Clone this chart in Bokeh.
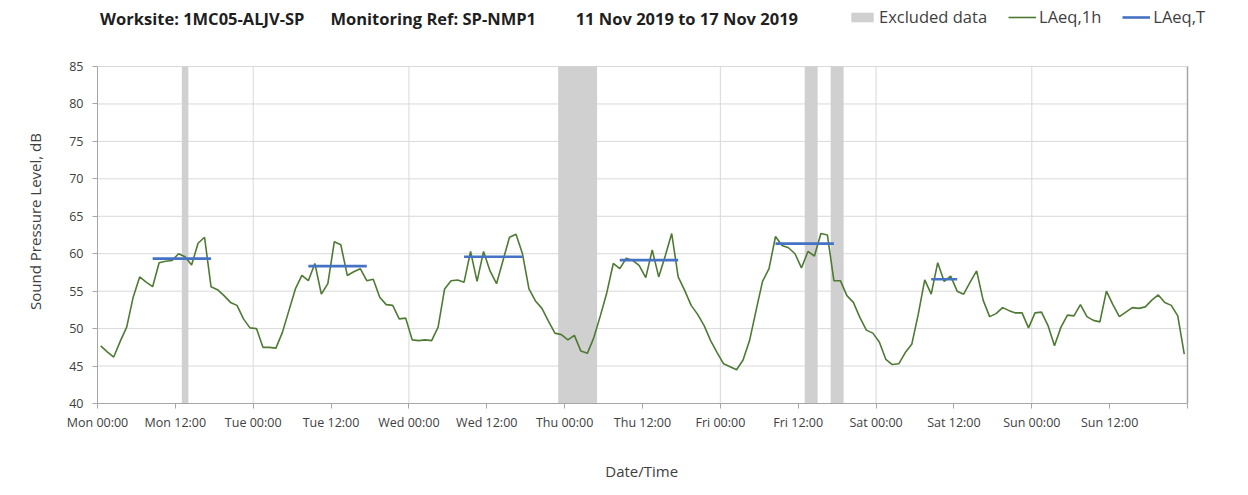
from bokeh.plotting import figure
from bokeh.models import FixedTicker, Label, Legend, LegendItem, ColumnDataSource
from bokeh.embed import file_html
from bokeh.resources import INLINE

# ---------------- data ----------------
# hourly LAeq,1h values, Mon 11 Nov 2019 00:00 .. Sun 17 Nov 2019 23:00 (index = hour of week)
laeq_1h = [
    47.7, 46.9, 46.2, 48.3, 50.2, 54.2, 56.9, 56.2, 55.6, 58.8, 59.0, 59.1,
    60.0, 59.6, 58.5, 61.4, 62.2, 55.6, 55.2, 54.4, 53.5, 53.1, 51.3, 50.1,
    50.0, 47.5, 47.5, 47.4, 49.5, 52.4, 55.3, 57.1, 56.4, 58.7, 54.6, 56.0,
    61.6, 61.2, 57.1, 57.6, 58.0, 56.4, 56.6, 54.2, 53.2, 53.1, 51.3, 51.4,
    48.5, 48.4, 48.5, 48.4, 50.2, 55.3, 56.4, 56.5, 56.2, 60.3, 56.3, 60.3,
    57.7, 56.0, 59.1, 62.2, 62.6, 60.0, 55.3, 53.7, 52.7, 51.0, 49.4, 49.2,
    48.5, 49.1, 47.0, 46.7, 48.8, 51.7, 54.8, 58.7, 58.0, 59.4, 59.1, 58.4,
    56.8, 60.5, 56.9, 59.7, 62.7, 56.9, 55.1, 53.1, 51.9, 50.4, 48.4, 46.8,
    45.3, 44.9, 44.5, 45.8, 48.4, 52.4, 56.3, 58.0, 62.3, 61.1, 60.8, 60.0,
    58.1, 60.3, 59.7, 62.7, 62.5, 56.4, 56.4, 54.4, 53.5, 51.5, 49.8, 49.4,
    48.2, 45.9, 45.2, 45.3, 46.8, 47.9, 51.9, 56.5, 54.6, 58.8, 56.3, 57.0,
    55.0, 54.6, 56.2, 57.7, 53.8, 51.6, 52.0, 52.8, 52.4, 52.1, 52.1, 50.1,
    52.1, 52.2, 50.4, 47.7, 50.2, 51.8, 51.7, 53.2, 51.6, 51.1, 50.9, 55.0,
    53.2, 51.6, 52.2, 52.8, 52.7, 52.9, 53.8, 54.5, 53.5, 53.1, 51.7, 46.6,
]
hour_index = list(range(len(laeq_1h)))

# LAeq,T periods (first and last hour index of each assessment period)
period_first = [8, 32, 56, 80, 104, 128]
period_last = [17, 41, 65, 89, 113, 132]
laeq_T = [59.35, 58.35, 59.6, 59.15, 61.35, 56.6]

# excluded data windows (hour of week)
excl_start = [13, 71, 109, 113]
excl_end = [14, 77, 111, 115]

tick_hours = [0, 12, 24, 36, 48, 60, 72, 84, 96, 108, 120, 132, 144, 156, 168]
tick_labels = ["Mon 00:00", "Mon 12:00", "Tue 00:00", "Tue 12:00", "Wed 00:00",
               "Wed 12:00", "Thu 00:00", "Thu 12:00", "Fri 00:00", "Fri 12:00",
               "Sat 00:00", "Sat 12:00", "Sun 00:00", "Sun 12:00", ""]
day_grid = [24, 48, 72, 96, 120, 144]
y_ticks = [40, 45, 50, 55, 60, 65, 70, 75, 80, 85]
X_MIN, X_MAX = 0, 168
Y_MIN, Y_MAX = 40, 85

title_parts = ["Worksite: 1MC05-ALJV-SP", "Monitoring Ref: SP-NMP1",
               "11 Nov 2019 to 17 Nov 2019"]
title_x = [0.4, 35.9, 73.7]

FONT = "Open Sans"
AXIS_COL = "#a6a6a6"
GRID_COL = "#d9d9d9"
TEXT_COL = "#404040"

# ---------------- figure ----------------
# The frame is larger than the data area (0-168 h, 40-85 dB) so that the
# header row (title + legend) can be drawn inside it without clipping.
PX_PER_DB = 337.0 / (Y_MAX - Y_MIN)
PX_PER_H = 1090.0 / (X_MAX - X_MIN)
FRAME_H = 403
FRAME_W = 1143
y_top = Y_MIN + FRAME_H / PX_PER_DB
x_right = X_MIN + FRAME_W / PX_PER_H
header_y = Y_MIN + (FRAME_H - 18) / PX_PER_DB

p = figure(width=1248, height=495, frame_width=FRAME_W, frame_height=FRAME_H,
           x_range=(X_MIN, x_right), y_range=(Y_MIN, y_top),
           output_backend="svg", toolbar_location=None,
           min_border_left=97, min_border_right=1248 - 97 - FRAME_W, min_border_top=0,
           min_border_bottom=92)
p.title.visible = False
p.styles = {"outline": "1px solid #d9d9d9", "outline-offset": "-5px"}
p.outline_line_color = None
p.background_fill_color = "white"
p.border_fill_color = "white"
p.xgrid.visible = False
p.ygrid.visible = False

# grid lines (data area only)
p.segment(x0=X_MIN, x1=X_MAX, y0=y_ticks[1:], y1=y_ticks[1:], line_color=GRID_COL, line_width=1)
p.segment(x0=day_grid, x1=day_grid, y0=Y_MIN, y1=Y_MAX, line_color=GRID_COL, line_width=1)

# excluded bands
bands = p.quad(left=excl_start, right=excl_end, bottom=Y_MIN, top=Y_MAX,
               fill_color="#d0d0d0", line_color=None)

# LAeq,1h line (points at centre of each hour)
src = ColumnDataSource(dict(x=[h + 0.5 for h in hour_index], y=laeq_1h))
green = p.line("x", "y", source=src, line_color="#4e7a33", line_width=1.6)

# LAeq,T segments
seg_src = ColumnDataSource(dict(x0=[a + 0.5 for a in period_first],
                                x1=[b + 0.5 for b in period_last],
                                y=laeq_T))
blue = p.segment(x0="x0", y0="y", x1="x1", y1="y", source=seg_src,
                 line_color="#4472c4", line_width=2.6)

# right-hand plot-area edge
p.segment(x0=[X_MAX], x1=[X_MAX], y0=[Y_MIN], y1=[Y_MAX], line_color=AXIS_COL, line_width=1.5)

# axes
p.xaxis.ticker = FixedTicker(ticks=tick_hours)
p.xaxis.major_label_overrides = {h: lab for h, lab in zip(tick_hours, tick_labels)}
p.xaxis.bounds = (X_MIN, X_MAX)
p.yaxis.ticker = FixedTicker(ticks=y_ticks)
p.yaxis.bounds = (Y_MIN, Y_MAX)

for ax in (p.xaxis, p.yaxis):
    ax.axis_line_color = AXIS_COL
    ax.major_tick_line_color = AXIS_COL
    ax.major_tick_out = 5
    ax.major_tick_in = 0
    ax.minor_tick_line_color = None
    ax.major_label_text_font = FONT
    ax.major_label_text_font_size = "12.5px"
    ax.major_label_text_color = TEXT_COL
    ax.axis_label_text_font = FONT
    ax.axis_label_text_font_size = "15px"
    ax.axis_label_text_font_style = "normal"
    ax.axis_label_text_color = TEXT_COL

# trailing no-break spaces centre the axis titles on the data area of the frame
p.xaxis.axis_label = "Date/Time" + "\u00a0" * 14
p.yaxis.axis_label = "Sound Pressure Level, dB" + "\u00a0" * 10
p.xaxis.major_label_standoff = 5
p.xaxis.axis_label_standoff = 27
p.yaxis.major_label_standoff = 9
p.yaxis.axis_label_standoff = 21

# title
for txt, tx in zip(title_parts, title_x):
    p.add_layout(Label(x=tx, y=header_y, text=txt, text_font=FONT, text_font_style="bold",
                       text_font_size="16.5px", text_baseline="middle", text_align="left",
                       text_color="#1f1f1f"))

# legend
legend = Legend(items=[LegendItem(label="Excluded data", renderers=[bands]),
                       LegendItem(label="LAeq,1h", renderers=[green]),
                       LegendItem(label="LAeq,T", renderers=[blue])],
                orientation="horizontal", location=(751, FRAME_H - 28),
                label_text_font=FONT, label_text_font_size="16.5px",
                label_text_color=TEXT_COL, glyph_width=28, glyph_height=12,
                label_standoff=3, spacing=21, padding=0, margin=0,
                border_line_color=None, background_fill_alpha=0, label_height=20)
p.add_layout(legend, "center")

open("out.html", "w").write(file_html(p, INLINE))
